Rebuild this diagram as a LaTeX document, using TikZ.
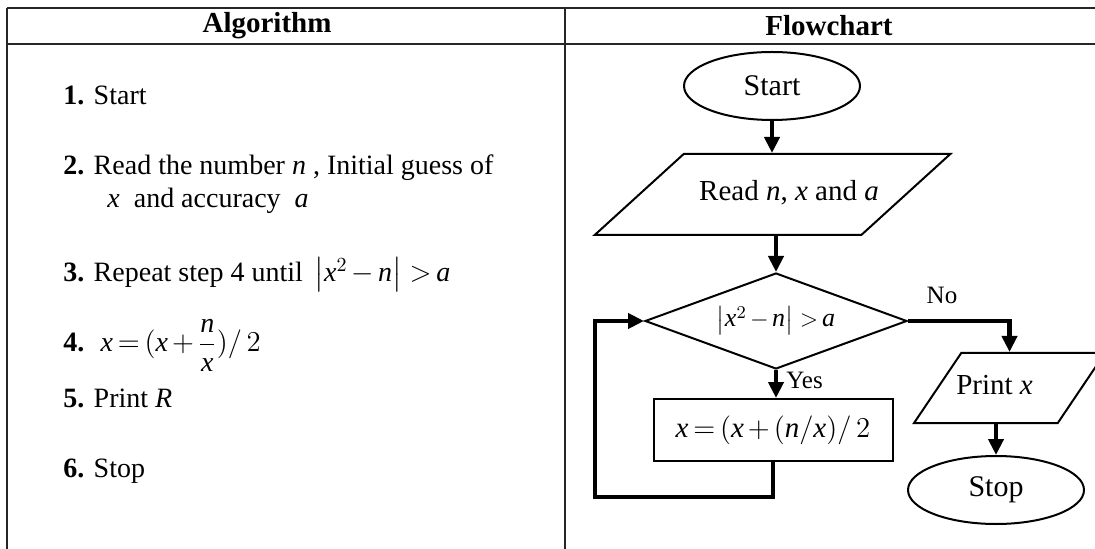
\documentclass[tikz,border=0pt]{standalone}
\usepackage{amsmath}
\usepackage{fontspec}
\setmainfont{Liberation Serif}
\usetikzlibrary{shapes.geometric, arrows.meta, positioning}
\newcommand{\mv}[1]{\textit{#1}}
\thickmuskip=3mu plus 2mu
\medmuskip=2.5mu plus 1mu
\tikzset{
  termbox/.style={ellipse, draw=black, line width=1pt, minimum width=88pt, minimum height=34pt,
                  inner sep=0pt, font=\fontsize{15}{17}\selectfont},
  iobox/.style={trapezium, draw=black, line width=1pt, trapezium stretches body=true,
                text height=10pt, text depth=3.5pt, font=\fontsize{14.5}{17}\selectfont},
  procbox/.style={rectangle, draw=black, line width=1pt, minimum width=119.5pt, minimum height=31pt,
                  inner sep=0pt, font=\fontsize{14.5}{17}\selectfont},
  testbox/.style={diamond, draw=black, line width=1pt, aspect=2.7, minimum width=131pt, minimum height=48pt,
                  inner sep=0pt, font=\fontsize{13}{15}\selectfont},
  flowarrow/.style={-{Triangle[length=8pt, width=7.5pt]}, line width=2.2pt},
  flowlabel/.style={font=\fontsize{12.5}{14}\selectfont, inner sep=1pt},
  steptext/.style={anchor=base west, inner sep=0pt, font=\fontsize{14}{17}\selectfont},
  headtext/.style={inner sep=0pt, font=\fontsize{14.5}{17}\selectfont\bfseries},
  tablerule/.style={line width=1pt, draw=black!85},
}

\begin{document}
\begin{tikzpicture}[x=0.5pt, y=-0.5pt]
  \useasboundingbox (0,0) rectangle (1095,549);
  % table frame
  \draw[tablerule] (7,8) -- (1095,8);
  \draw[tablerule] (7,44) -- (1095,44);
  \draw[tablerule] (7,8) -- (7,549);
  \draw[tablerule] (565,8) -- (565,549);
  \node[headtext] (algohead) at (267,26) {Algorithm};
  \node[headtext] (flowhead) at (829,26) {Flowchart};

  % algorithm steps
  \node[steptext] (step1) at (63,105) {\textbf{1.} Start};
  \node[steptext] (step2) at (63,175) {\textbf{2.} Read the number \mv{n} , Initial guess of};
  \node[steptext] (step2b) at (107,208) {\mv{x} \ and accuracy \ \mv{a}};
  \node[steptext] (step3) at (63,282) {\textbf{3.} Repeat step 4 until \,$\left|\mv{x}^{2}-\mv{n}\right|\mkern2mu{>}\mkern3mu\mv{a}$};
  \node[steptext] (step4) at (63,352) {\textbf{4.} \ $\mv{x}=(\mv{x}+\dfrac{\mv{n}}{\mv{x}})/\,2$};
  \node[steptext] (step5) at (63,408) {\textbf{5.} Print \mv{R}};
  \node[steptext] (step6) at (63,477) {\textbf{6.} Stop};

  % flowchart
  \node[termbox] (start) at (772,86) {Start};
  \node[iobox, trapezium left angle=42.3, trapezium right angle=137.7, inner ysep=13.5pt,
        inner xsep=-8.75pt] (read) at (772.5,194.5) {\kern16.5pt Read \mv{n}, \mv{x} and \mv{a}};
  \node[testbox] (test) at (776,321) {$\left|\mv{x}^{2}-\mv{n}\right|\mkern2mu{>}\mkern3mu\mv{a}$};
  \node[procbox] (update) at (773,430) {$\mv{x}=(\mv{x}+(\mv{n}/\mv{x})/\,2$};
  \node[iobox, trapezium left angle=56, trapezium right angle=124, inner ysep=10.75pt,
        inner xsep=-2.5pt] (print) at (1009.5,388) {Print \mv{x}\kern15pt};
  \node[termbox] (stop) at (996,490) {Stop};
  \coordinate (loopcorner) at (595,497);

  \node[flowlabel, anchor=west] (yes) at (784,380) {Yes};
  \node[flowlabel] (no) at (942,295) {No};

  \draw[flowarrow] (start.south) -- (start.south |- read.north);
  \draw[flowarrow] (test.north |- read.south) -- (test.north);
  \draw[flowarrow] (test.south) -- (test.south |- update.north);
  \draw[flowarrow] (update.south) |- (loopcorner) |- (test.west);
  \draw[flowarrow] (test.east) -| (print.north);
  \draw[flowarrow] (stop.north |- print.south) -- (stop.north);
\end{tikzpicture}
\end{document}
